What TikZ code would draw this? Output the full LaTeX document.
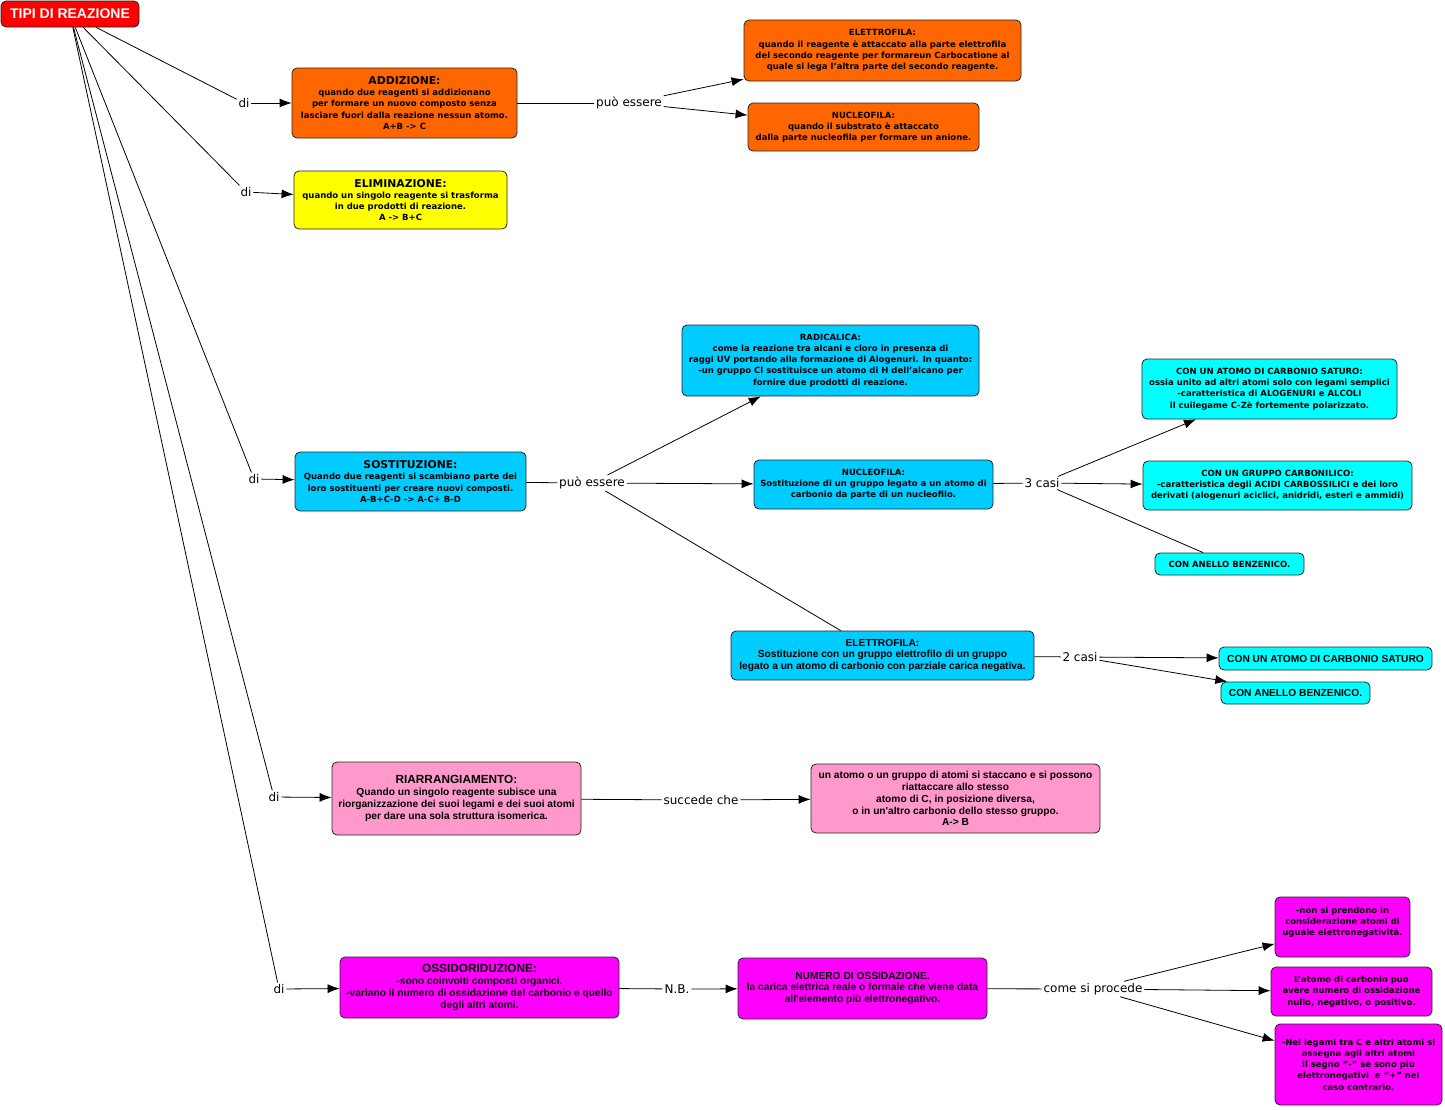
\documentclass[tikz,border=0pt]{standalone}
\usepackage{fontspec}
\setmainfont{DejaVu Sans}
\newfontfamily\arialfont{Liberation Sans}
\usepackage{tikz}
\usetikzlibrary{arrows.meta}

\definecolor{rootred}{RGB}{255,0,0}
\definecolor{addorange}{RGB}{255,102,0}
\definecolor{elimyellow}{RGB}{255,255,0}
\definecolor{sostblue}{RGB}{0,204,255}
\definecolor{casecyan}{RGB}{0,255,255}
\definecolor{riarrpink}{RGB}{255,153,204}
\definecolor{oxmagenta}{RGB}{255,0,255}

\newcommand{\boxtitle}[1]{{\fontsize{10.8}{13}\selectfont #1}}
\newcommand{\arialtitle}[1]{{\fontsize{11.8}{14}\selectfont #1}}

\tikzset{
    box/.style={draw=black!85, line width=0.8pt, rounded corners=5pt, align=center, inner sep=2pt,
        font=\bfseries\fontsize{8.5}{11.2}\selectfont},
    narrowbox/.style={box, font=\arialfont\bfseries\fontsize{10.2}{11.8}\selectfont},
    lbl/.style={inner sep=1.5pt, font=\fontsize{12}{14}\selectfont},
    arr/.style={-{Latex[length=12pt,width=9pt]}},
}

\begin{document}
\begin{tikzpicture}[x=1pt, y=-1pt, line width=0.8pt]
    \fill[white] (0,0) rectangle (1445,1109);
    \useasboundingbox (0,0) rectangle (1445,1109);

    % main concept and the five kinds
    \node[box, fill=rootred, text=white, minimum width=138, minimum height=26,
        font=\arialfont\bfseries\fontsize{14}{15}\selectfont] (root) at (70,14) {TIPI DI REAZIONE};

    \node[box, fill=addorange, minimum width=225, minimum height=70] (add) at (404.5,103)
        {\boxtitle{ADDIZIONE:}\\ quando due reagenti si addizionano\\ per formare un nuovo composto senza\\ lasciare fuori dalla reazione nessun atomo.\\ A+B -> C};
    \node[box, fill=elimyellow, minimum width=213, minimum height=58] (elim) at (400.5,200)
        {\boxtitle{ELIMINAZIONE:}\\ quando un singolo reagente si trasforma\\ in due prodotti di reazione.\\ A -> B+C};
    \node[box, fill=sostblue, minimum width=231, minimum height=59] (sost) at (410.5,481.5)
        {\boxtitle{SOSTITUZIONE:}\\ Quando due reagenti si scambiano parte dei\\ loro sostituenti per creare nuovi composti.\\ A-B+C-D -> A-C+ B-D};
    \node[narrowbox, fill=riarrpink, minimum width=249, minimum height=73] (riarr) at (456.5,798.5)
        {\arialtitle{RIARRANGIAMENTO:}\\ Quando un singolo reagente subisce una\\ riorganizzazione dei suoi legami e dei suoi atomi\\ per dare una sola struttura isomerica.};
    \node[narrowbox, fill=oxmagenta, minimum width=279, minimum height=61] (ossid) at (479.5,987.5)
        {\arialtitle{OSSIDORIDUZIONE:}\\ -sono coinvolti composti organici.\\ -variano il numero di ossidazione del carbonio e quello\\ degli altri atomi.};

    % addizione
    \node[box, fill=addorange, minimum width=277, minimum height=61] (addel) at (882.5,50.5)
        {ELETTROFILA:\\ quando il reagente è attaccato alla parte elettrofila\\ del secondo reagente per formareun Carbocatione al\\ quale si lega l'altra parte del secondo reagente.};
    \node[box, fill=addorange, minimum width=231, minimum height=48] (addnu) at (863.5,127)
        {NUCLEOFILA:\\ quando il substrato è attaccato\\ dalla parte nucleofila per formare un anione.};

    % sostituzione
    \node[box, fill=sostblue, minimum width=297, minimum height=71] (rad) at (830.5,360.5)
        {RADICALICA:\\ come la reazione tra alcani e cloro in presenza di\\ raggi UV portando alla formazione di Alogenuri. In quanto:\\ -un gruppo Cl sostituisce un atomo di H dell'alcano per\\ fornire due prodotti di reazione.};
    \node[box, fill=sostblue, minimum width=239, minimum height=49] (snu) at (873.5,484.5)
        {NUCLEOFILA:\\ Sostituzione di un gruppo legato a un atomo di\\ carbonio da parte di un nucleofilo.};
    \node[narrowbox, fill=sostblue, minimum width=303, minimum height=49] (sel) at (882.5,655.5)
        {ELETTROFILA:\\ Sostituzione con un gruppo elettrofilo di un gruppo\\ legato a un atomo di carbonio con parziale carica negativa.};

    \node[box, fill=casecyan, minimum width=255, minimum height=60] (sat1) at (1269.5,389)
        {CON UN ATOMO DI CARBONIO SATURO:\\ ossia unito ad altri atomi solo con legami semplici\\ -caratteristica di ALOGENURI e ALCOLI\\ il cuilegame C-Zè fortemente polarizzato.};
    \node[box, fill=casecyan, minimum width=269, minimum height=49] (carb) at (1277.5,485.5)
        {CON UN GRUPPO CARBONILICO:\\ -caratteristica degli ACIDI CARBOSSILICI e dei loro\\ derivati (alogenuri aciclici, anidridi, esteri e ammidi)};
    \node[box, fill=casecyan, minimum width=149, minimum height=22] (benz1) at (1229.5,564) {CON ANELLO BENZENICO.};
    \node[narrowbox, fill=casecyan, minimum width=213, minimum height=23] (sat2) at (1325.5,658.5) {CON UN ATOMO DI CARBONIO SATURO};
    \node[narrowbox, fill=casecyan, minimum width=149, minimum height=22] (benz2) at (1295.5,693) {CON ANELLO BENZENICO.};

    % riarrangiamento
    \node[narrowbox, fill=riarrpink, minimum width=289, minimum height=69] (riat) at (955.5,798.5)
        {un atomo o un gruppo di atomi si staccano e si possono\\ riattaccare allo stesso\\ atomo di C, in posizione diversa,\\ o in un'altro carbonio dello stesso gruppo.\\ A-> B};

    % ossidoriduzione
    \node[narrowbox, fill=oxmagenta, minimum width=249, minimum height=61] (numox) at (862.5,988.5)
        {NUMERO DI OSSIDAZIONE.\\ la carica elettrica reale o formale che viene data\\ all'elemento più elettronegativo.};
    \node[box, fill=oxmagenta, minimum width=135, minimum height=60] (ox1) at (1342.5,927)
        {-non si prendono in\\ considerazione atomi di\\ uguale elettronegatività.\\ \mbox{}};
    \node[box, fill=oxmagenta, minimum width=161, minimum height=49] (ox2) at (1351.5,991.5)
        {L'atomo di carbonio può\\ avere numero di ossidazione\\ nullo, negativo, o positivo.};
    \node[box, fill=oxmagenta, minimum width=167, minimum height=81] (ox3) at (1358.5,1064.5)
        {-Nel legami tra C e altri atomi si\\ assegna agli altri atomi\\ il segno "-" se sono piu\\ elettronegativi\ \ e "+" nel\\ caso contrario.};

    % link labels
    \node[lbl] (di1) at (244,103) {di};
    \node[lbl] (di2) at (246,192) {di};
    \node[lbl] (di3) at (254,479) {di};
    \node[lbl] (di4) at (274,797) {di};
    \node[lbl] (di5) at (279,989) {di};
    \node[lbl] (pe1) at (629,103) {può essere};
    \node[lbl] (pe2) at (592,483) {può essere};
    \node[lbl] (casi3) at (1042,483) {3 casi};
    \node[lbl] (casi2) at (1080,657) {2 casi};
    \node[lbl] (sc) at (701,800) {succede che};
    \node[lbl] (nb) at (677,989) {N.B.};
    \node[lbl] (csp) at (1093,989) {come si procede};

    % connectors
    \foreach \d/\b in {di1/add, di2/elim, di3/sost, di4/riarr, di5/ossid} {
        \draw (root) -- (\d);
        \draw[arr] (\d) -- (\b);
    }
    \draw (add) -- (pe1);
    \draw[arr] (pe1) -- (addel);
    \draw[arr] (pe1) -- (addnu);
    \draw (sost) -- (pe2);
    \draw[arr] (pe2) -- (rad);
    \draw[arr] (pe2) -- (snu);
    \draw (pe2) -- (sel);
    \draw (snu) -- (casi3);
    \draw[arr] (casi3) -- (sat1);
    \draw[arr] (casi3) -- (carb);
    \draw (casi3) -- (benz1);
    \draw (sel) -- (casi2);
    \draw[arr] (casi2) -- (sat2);
    \draw[arr] (casi2) -- (benz2);
    \draw (riarr) -- (sc);
    \draw[arr] (sc) -- (riat);
    \draw (ossid) -- (nb);
    \draw[arr] (nb) -- (numox);
    \draw (numox) -- (csp);
    \draw[arr] (csp) -- (ox1);
    \draw[arr] (csp) -- (ox2);
    \draw[arr] (csp) -- (ox3);
\end{tikzpicture}
\end{document}
